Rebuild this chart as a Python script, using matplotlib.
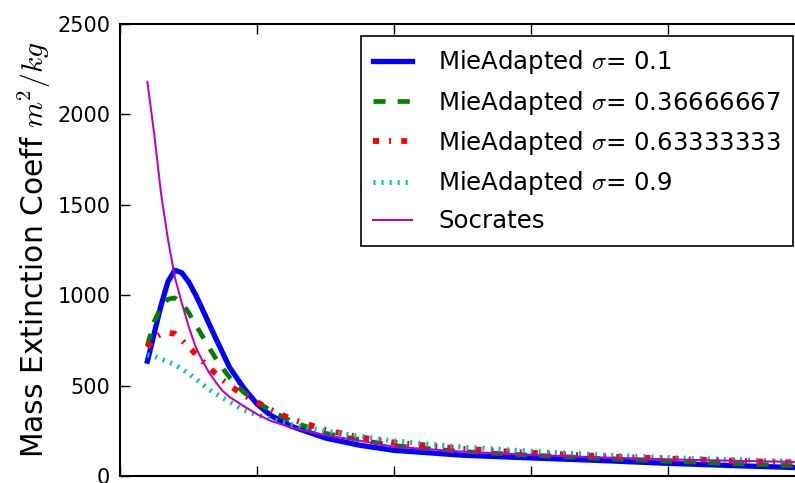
import matplotlib as mpl
import matplotlib.pyplot as plt

mpl.rcParams["mathtext.fontset"] = "cm"
mpl.rcParams["lines.scale_dashes"] = False
mpl.rcParams["lines.dashed_pattern"] = [8.7, 8.7]
mpl.rcParams["lines.dashdot_pattern"] = [4.35, 7.25, 1.45, 7.25]
mpl.rcParams["lines.dotted_pattern"] = [1.45, 4.35]

x = [0.2, 0.25, 0.3, 0.35, 0.4, 0.45, 0.5, 0.55, 0.6, 0.65, 0.7, 0.75, 0.8,
     0.9, 1.0, 1.1, 1.25, 1.5, 1.75, 2.0, 2.5, 3.0, 3.5, 4.0, 4.5, 5.0]

mie_01 = [635, 790, 945, 1075, 1138, 1125, 1075, 1005, 925, 842, 760, 680, 600,
          490, 398, 335, 275, 210, 170, 142, 115, 100, 86, 70, 57, 45]
mie_037 = [722, 855, 935, 978, 985, 958, 905, 840, 775, 710, 650, 595, 545,
           465, 410, 362, 303, 236, 200, 168, 135, 115, 98, 82, 68, 55]
mie_063 = [712, 765, 785, 792, 787, 752, 715, 677, 638, 600, 565, 530, 500,
           450, 408, 367, 315, 255, 214, 185, 150, 128, 110, 96, 84, 73]
mie_09 = [670, 662, 648, 632, 616, 592, 567, 538, 508, 478, 455, 432, 410,
          365, 338, 315, 285, 248, 220, 194, 160, 137, 117, 102, 90, 80]
socrates = [2180, 1890, 1560, 1310, 1100, 960, 830, 718, 640, 572, 518, 470, 437,
            388, 342, 305, 268, 226, 195, 162, 135, 117, 103, 92, 84, 77]

fig = plt.figure(figsize=(7.95, 4.83), dpi=100, facecolor="white")
ax = fig.add_axes([120 / 795, 7 / 483, 685 / 795, 452 / 483])

ax.plot(x, mie_01, color="b", lw=3.8, label=r"MieAdapted $\sigma$= 0.1")
ax.plot(x, mie_037, color="g", lw=3.4, ls="--", label=r"MieAdapted $\sigma$= 0.36666667")
ax.plot(x, mie_063, color="r", lw=4.2, ls="-.", label=r"MieAdapted $\sigma$= 0.63333333")
ax.plot(x, mie_09, color="c", lw=3.6, ls=":", label=r"MieAdapted $\sigma$= 0.9")
ax.plot(x, socrates, color="m", lw=1.45, label="Socrates")

ax.set_xlim(0, 5)
ax.set_ylim(0, 2500)
ax.set_yticks([0, 500, 1000, 1500, 2000, 2500])
ax.set_xticks([0, 1, 2, 3, 4, 5])
ax.tick_params(direction="in", length=7, width=1, top=True, right=True,
               labelsize=15, pad=7, labelbottom=False)
for sp in ax.spines.values():
    sp.set_linewidth(1.5)

ax.set_ylabel(r"Mass Extinction Coeff $m^2/kg$", fontsize=21.4, labelpad=3)

leg = ax.legend(loc="upper right", fontsize=17.6, handlelength=1.6, handletextpad=1.07,
                labelspacing=0.5, fancybox=False, framealpha=1, borderpad=0.5)
leg.get_frame().set_edgecolor("black")
leg.get_frame().set_linewidth(1.2)

fig.savefig("out.png", dpi=100, facecolor="white")
